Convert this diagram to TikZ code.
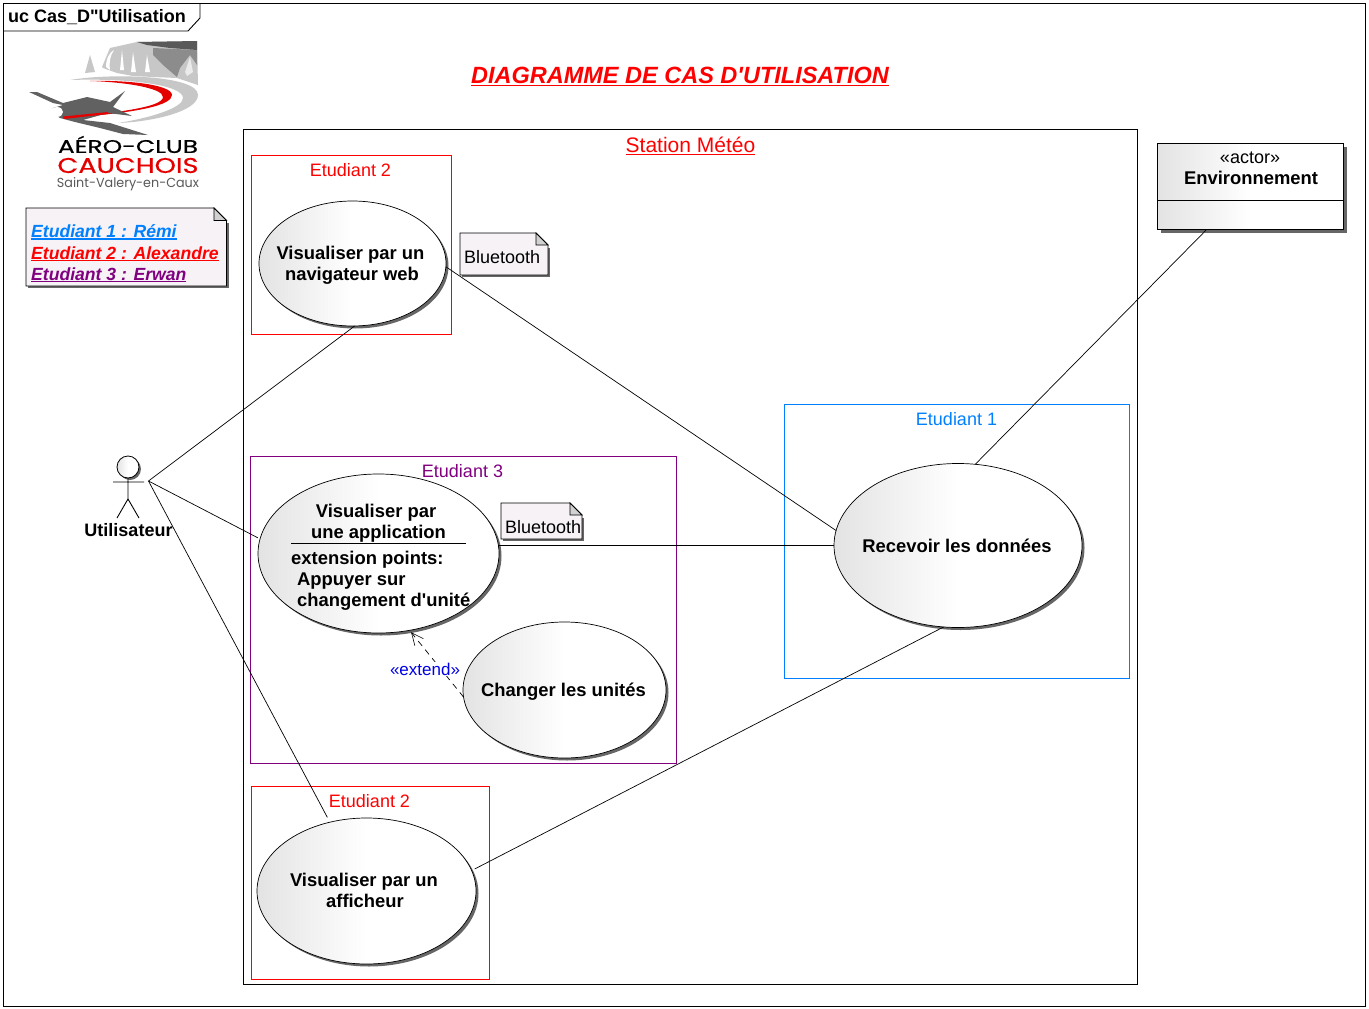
\documentclass[tikz,border=0pt]{standalone}
\usepackage{fontspec}
\usepackage{graphicx}
\setmainfont{Liberation Sans}[Ligatures=TeXOff]
\newfontfamily\logofont{Poppins}[FakeBold=0.5]
\newfontfamily\logofontb{Poppins}
\usetikzlibrary{shapes.geometric,shadows,arrows.meta}
\pgfdeclarehorizontalshading{ucshade}{100bp}{color(0bp)=(black!11); color(25bp)=(black!11); color(50bp)=(white); color(100bp)=(white)}
\definecolor{noteFill}{HTML}{F6F2F6}
\definecolor{stblue}{HTML}{0080FF}
\definecolor{stpurple}{HTML}{800080}
\newcommand{\myul}[2][1.5pt]{\leavevmode\setbox0=\hbox{#2}\vtop{\copy0\kern0.6pt\hrule height #1 width \wd0}}
\newcommand{\notebox}[5]{%
  \fill[black!60] (#1+2.3,#2+15) -- (#3+2.3,#2+15) -- (#3+2.3,#4+2.3) -- (#1+2.3,#4+2.3) -- cycle;
  \draw[notep,fill=noteFill] (#1,#2) -- (#3-#5,#2) -- (#3,#2+#5) -- (#3,#4) -- (#1,#4) -- cycle;
  \draw[notep,fill=black!18] (#3-#5,#2) -- (#3-#5,#2+#5) -- (#3,#2+#5) -- cycle;}
\tikzset{
  notep/.style={line width=0.8pt,black},
  uc/.style={ellipse,draw=black,line width=0.7pt,inner sep=0pt,outer sep=0pt,shading=ucshade,
    drop shadow={shadow xshift=2.5pt,shadow yshift=-2.5pt,fill=black!60,opacity=1}},
  uctext/.style={inner sep=0pt,font=\fontsize{18.4}{21}\selectfont\bfseries,align=center,text=black},
  stbox/.style={draw,line width=0.7pt},
  stlabel/.style={inner sep=0pt,font=\fontsize{18}{21}\selectfont},
  legtext/.style={anchor=base west,inner sep=0pt,font=\fontsize{17.6}{21}\selectfont\bfseries\itshape},
  conn/.style={line width=0.7pt,black},
}
\begin{document}
\begin{tikzpicture}[x=1pt,y=-1pt]
\useasboundingbox[fill=white] (0,0) rectangle (1369,1009);
% frame
\draw[line width=0.9pt] (3,3) rectangle (1365,1006);
\draw[line width=0.9pt] (3,31) -- (188,31) -- (200,18) -- (200,3);
\node[anchor=west,inner sep=0pt,font=\fontsize{18}{20}\selectfont\bfseries] (frametitle) at (8,17) {uc Cas\_D"Utilisation};
% logo
\fill[black!22] (102,67) -- (110,48) -- (137,42) -- (197,41) -- (198,85) -- (177,78) -- (153,77) -- (133,76) -- (117,73) -- (103,68) -- cycle;
\fill[black!45] (153,48) -- (197,50) -- (197,65) -- (190,55) -- (180,68) -- (177,77) -- (163,65) -- (153,55) -- cycle;
\fill[black!65] (137,42) -- (197,41) -- (197,50) -- (170,48) -- (147,45) -- cycle;
\fill[white] (106,67) .. controls (106,58) and (110,52) .. (114,50) .. controls (110,56) and (109,62) .. (110,70) -- cycle;
\fill[white] (122,50) -- (124,70) -- (120,70) -- cycle (133,52) -- (136,72) -- (131,72) -- cycle (147,55) -- (150,72) -- (145,72) -- cycle;
\fill[black!8] (190,57) -- (193,72) -- (187,76) -- (185,72) -- cycle;
\fill[black!22] (90,55) -- (85,73) -- (95,72) -- cycle;
\fill[black!22] (70,80) .. controls (110,73) and (198,75) .. (198,95) .. controls (198,112) and (150,122) .. (118,123) .. controls (150,118) and (183,108) .. (183,98) .. controls (183,85) and (130,78) .. (70,80) -- cycle;
\fill[red!90!black] (90,81) .. controls (130,80) and (172,85) .. (172,95) .. controls (172,105) and (140,113) .. (63,118) .. controls (110,113) and (163,108) .. (163,97) .. controls (163,88) and (125,82) .. (90,81) -- cycle;
\fill[black!62] (29,92) -- (37,92) -- (63,103) -- (87,97) -- (110,102) -- (125,91) -- (113,107) -- (132,116) -- (108,113) -- (83,120) -- (110,123) -- (148,135) -- (123,134) -- (100,128) -- (75,122) -- (60,118) -- (52,113) -- (53,108) -- (63,105) -- (53,103) -- cycle;
\fill[white] (57,112) ellipse [x radius=6,y radius=5];
\fill[red!90!black] (63,116.5) -- (108,112) -- (108,114) -- (64,119) -- cycle;
\node[inner sep=0pt,text=black] (logoa) at (128,144.5) {\resizebox{140pt}{17pt}{\logofont AÉRO-CLUB}};
\node[inner sep=0pt,text=red!90!black] (logob) at (128,165.5) {\resizebox{141pt}{15pt}{\logofont CAUCHOIS}};
\node[inner sep=0pt,text=black!65] (logoc) at (128,184) {\resizebox{142pt}{10pt}{\logofontb Saint-Valery-en-Caux}};
% main title
\node[inner sep=0pt,text=red,font=\fontsize{23.5}{28}\selectfont\bfseries\itshape] (title) at (680,76) {\underline{DIAGRAMME DE CAS D'UTILISATION}};
% legend
\notebox{26}{208}{226.5}{286}{12.5}
\node[legtext,text=stblue] (leg1) at (31,237.5) {\myul{Etudiant 1 : Rémi}};
\node[legtext,text=red] (leg2) at (31,259) {\myul{Etudiant 2 : Alexandre}};
\node[legtext,text=stpurple] (leg3) at (31,280) {\myul{Etudiant 3 : Erwan}};
% system
\draw[line width=0.9pt] (243.5,129.5) rectangle (1137,984);
\node[stlabel,text=red,font=\fontsize{21}{24}\selectfont] (station) at (690.5,146) {\underline{Station Météo}};
% student boxes
\draw[stbox,red] (251.3,155.3) rectangle (451,334);
\node[stlabel,text=red] (e2a) at (350.5,170) {Etudiant 2};
\draw[stbox,stpurple] (250.3,456.5) rectangle (676,763);
\node[stlabel,text=stpurple] (e3) at (462.5,471) {Etudiant 3};
\draw[stbox,red] (251.3,786.3) rectangle (489,979);
\node[stlabel,text=red] (e2b) at (369.5,801) {Etudiant 2};
\draw[stbox,stblue] (784.3,404.3) rectangle (1129,678);
\node[stlabel,text=stblue] (e1) at (956.5,419) {Etudiant 1};
% use cases
\node[uc,minimum width=187pt,minimum height=125pt] (nav) at (352.5,263.5) {};
\node[uc,minimum width=241pt,minimum height=159pt] (app) at (378.5,553.5) {};
\node[uc,minimum width=203pt,minimum height=136pt] (chg) at (564.5,690) {};
\node[uc,minimum width=248pt,minimum height=164pt] (rec) at (958,545.5) {};
\node[uc,minimum width=219pt,minimum height=146pt] (aff) at (366.5,891) {};
\node[uctext] (navt) at (350.5,265) {Visualiser par un\\\hspace*{3pt}navigateur web};
\node[uctext] (appa) at (376,513) {Visualiser par};
\node[uctext] (appb) at (378.5,534) {une application};
\coordinate (appsepl) at (291,543);
\coordinate (appsepr) at (466,543);
\draw[conn] (appsepl) -- (appsepr);
\node[uctext,anchor=base west] (appc) at (291,564) {extension points:};
\node[uctext,anchor=base west] (appd) at (297,585) {Appuyer sur};
\node[uctext,anchor=base west] (appe) at (297,606) {changement d'unité};
\node[uctext] (chgt) at (563.5,692) {Changer les unités};
\node[uctext] (rect) at (957,545.5) {Recevoir les données};
\node[uctext] (afft) at (364,890.5) {Visualiser par un\\\hspace*{2pt}afficheur};
% notes
\notebox{460}{233}{548}{275}{12}
\node[stlabel,anchor=base west] (bt1) at (464,263) {Bluetooth};
\notebox{501}{503}{582}{539}{12}
\node[stlabel,anchor=base west] (bt2) at (505,533) {Bluetooth};
% actor box
\node[draw=black,line width=0.9pt,minimum width=186pt,minimum height=86pt,inner sep=0pt,shading=ucshade,
  drop shadow={shadow xshift=3pt,shadow yshift=-3pt,fill=black!60,opacity=1}] (env) at (1250.5,186.7) {};
\coordinate (envl) at (env.west |- 0,200);
\coordinate (envr) at (env.east |- 0,200);
\draw[line width=0.8pt] (envl) -- (envr);
\node[stlabel] (envs) at (1250,158) {«actor»};
\node[uctext] (envt) at (1251,178) {Environnement};
% actor
\node[circle,draw=black,line width=0.8pt,minimum size=22pt,inner sep=0pt,shading=ucshade,
  drop shadow={shadow xshift=2pt,shadow yshift=-2pt,fill=black!60,opacity=1}] (head) at (128,467) {};
\coordinate (armL) at (113,482);
\coordinate (armR) at (144,482);
\coordinate (hip) at (128,499);
\coordinate (footL) at (117,518);
\coordinate (footR) at (139,518);
\draw[conn,line width=0.9pt] (head.south) -- (hip) (armL) -- (armR) (footL) -- (hip) -- (footR);
\node[uctext,font=\fontsize{18}{21}\selectfont\bfseries] (actt) at (128.5,530) {Utilisateur};
\coordinate (hand) at (148.5,481);
% connectors
\draw[conn] (hand) -- (nav.272);
\draw[conn,shorten >=2.5pt] (hand) -- (app.173);
\draw[conn,shorten >=5.5pt] (hand) -- (aff.118);
\draw[conn] (nav.-2) -- (rec.173);
\draw[conn] (app.4 |- rec.west) -- (rec.west);
\draw[conn,shorten <=3.5pt] (aff.11) -- (rec.260);
\coordinate (envfoot) at ([xshift=49pt]env.south west);
\draw[conn] (envfoot) -- (rec.78);
\draw[conn,dash pattern=on 6pt off 5pt,shorten >=2.5pt,-{Straight Barb[length=12pt,width=11pt,line width=0.6pt]}] (chg.184) -- (app.292);
\node[inner sep=1pt,fill=white,text={rgb,255:red,0;green,0;blue,230},font=\fontsize{17}{20}\selectfont] (ext) at (425,669) {«extend»};
\end{tikzpicture}
\end{document}
